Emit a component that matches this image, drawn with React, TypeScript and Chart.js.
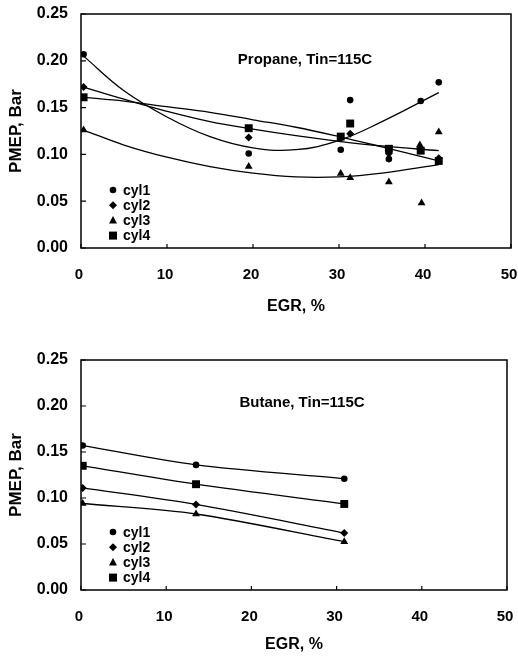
import { useEffect, useRef } from "react";
import { Chart, registerables } from "chart.js";

Chart.register(...registerables);

const FONT = "'Liberation Sans', Arial, Helvetica, sans-serif";

// Axis ticks
const X_TICKS = [0, 10, 20, 30, 40, 50];
const Y_TICKS = [0, 0.05, 0.1, 0.15, 0.2, 0.25];
const SERIES_NAMES = ["cyl1", "cyl2", "cyl3", "cyl4"];

// Propane, Tin=115C — measured PMEP (bar) per cylinder vs EGR (%)
const propaneCyl1X = [0.3, 19.5, 30.2, 31.3, 35.8, 39.5, 41.6];
const propaneCyl1Y = [0.207, 0.101, 0.105, 0.158, 0.095, 0.157, 0.177];
const propaneCyl2X = [0.3, 19.5, 30.2, 31.3, 35.8, 39.5, 41.6];
const propaneCyl2Y = [0.172, 0.118, 0.117, 0.122, 0.101, 0.106, 0.096];
const propaneCyl3X = [0.3, 19.5, 30.2, 31.3, 35.8, 39.4, 39.6, 41.6];
const propaneCyl3Y = [0.126, 0.087, 0.0795, 0.075, 0.0705, 0.11, 0.048, 0.124];
const propaneCyl4X = [0.3, 19.5, 30.2, 31.3, 35.8, 39.5, 41.6];
const propaneCyl4Y = [0.161, 0.128, 0.119, 0.133, 0.106, 0.104, 0.093];

// Propane trend curves, sampled along EGR
const propaneTrendX = [0.3, 5, 10, 15, 20, 25, 30, 35, 41.6];
const propaneTrend1 = [0.205, 0.168, 0.14, 0.119, 0.107, 0.105, 0.115, 0.135, 0.166];
const propaneTrend2 = [0.172, 0.159, 0.146, 0.135, 0.127, 0.12, 0.114, 0.109, 0.104];
const propaneTrend3 = [0.126, 0.11, 0.097, 0.087, 0.08, 0.076, 0.076, 0.08, 0.089];
const propaneTrend4 = [0.161, 0.157, 0.151, 0.145, 0.137, 0.129, 0.119, 0.108, 0.093];

// Butane, Tin=115C
const butaneEgr = [0.2, 13.5, 30.9];
const butaneCyl1 = [0.157, 0.136, 0.121];
const butaneCyl2 = [0.111, 0.093, 0.062];
const butaneCyl3 = [0.094, 0.0826, 0.0525];
const butaneCyl4 = [0.135, 0.115, 0.0935];

const POINT_STYLES = ["circle", "rectRot", "triangle", "rect"];
const POINT_RADII = [3.3, 4, 4.5, 5.6];

function pts(xs: number[], ys: number[]) {
  return xs.map((x, i) => ({ x, y: ys[i] }));
}

function drawMarker(ctx: CanvasRenderingContext2D, style: string, x: number, y: number) {
  ctx.beginPath();
  if (style === "circle") {
    ctx.arc(x, y, 3.3, 0, Math.PI * 2);
  } else if (style === "rectRot") {
    ctx.moveTo(x, y - 4);
    ctx.lineTo(x + 4, y);
    ctx.lineTo(x, y + 4);
    ctx.lineTo(x - 4, y);
    ctx.closePath();
  } else if (style === "triangle") {
    ctx.moveTo(x, y - 4.5);
    ctx.lineTo(x + 4, y + 3);
    ctx.lineTo(x - 4, y + 3);
    ctx.closePath();
  } else {
    ctx.rect(x - 4, y - 4, 8, 8);
  }
  ctx.fill();
}

// Frame around the plot, inward tick marks, inset title and legend
const framePlugin = {
  id: "frame",
  afterDraw(chart: any, _args: any, opts: any) {
    const { ctx, chartArea: a, scales } = chart;
    ctx.save();
    ctx.strokeStyle = "#000";
    ctx.fillStyle = "#000";
    ctx.lineWidth = 1.5;
    ctx.strokeRect(a.left, a.top, a.right - a.left, a.bottom - a.top);
    ctx.lineWidth = 1.2;
    ctx.beginPath();
    for (const v of X_TICKS) {
      const px = scales.x.getPixelForValue(v);
      ctx.moveTo(px, a.bottom);
      ctx.lineTo(px, a.bottom - 4);
    }
    for (const v of Y_TICKS) {
      const py = scales.y.getPixelForValue(v);
      ctx.moveTo(a.left, py);
      ctx.lineTo(a.left + 5, py);
    }
    ctx.stroke();

    ctx.font = `bold 15px ${FONT}`;
    ctx.textAlign = "center";
    ctx.textBaseline = "middle";
    ctx.fillText(opts.title, a.left + opts.titleDx, a.top + opts.titleDy);

    ctx.font = `bold 14px ${FONT}`;
    ctx.textAlign = "left";
    SERIES_NAMES.forEach((name, i) => {
      const y = a.bottom - 58 + i * 15.2;
      drawMarker(ctx, POINT_STYLES[i], a.left + 32, y);
      ctx.fillText(name, a.left + 42, y + 1);
    });
    ctx.restore();
  },
};

function makeConfig(p: {
  pointSets: { x: number; y: number }[][];
  curveSets: { x: number; y: number }[][];
  title: string;
  titleDx: number;
  titleDy: number;
  padTop: number;
  padRight: number;
  xHeight: number;
  xTitlePad: number;
  curveTension: number;
}) {
  const datasets: any[] = [];
  p.pointSets.forEach((data, i) => {
    datasets.push({
      label: SERIES_NAMES[i],
      data,
      showLine: false,
      pointStyle: POINT_STYLES[i],
      pointRadius: POINT_RADII[i],
      pointBackgroundColor: "#000",
      pointBorderColor: "#000",
      pointBorderWidth: 0,
      order: 1,
    });
  });
  p.curveSets.forEach((data, i) => {
    datasets.push({
      label: SERIES_NAMES[i] + " fit",
      data,
      showLine: true,
      pointRadius: 0,
      borderColor: "#000",
      borderWidth: 1.3,
      tension: p.curveTension,
      fill: false,
      order: 2,
    });
  });

  return {
    type: "scatter",
    data: { datasets },
    plugins: [framePlugin],
    options: {
      animation: false,
      responsive: false,
      devicePixelRatio: 1,
      events: [],
      layout: { padding: { left: 0, right: p.padRight, top: p.padTop, bottom: 0 } },
      plugins: {
        legend: { display: false },
        tooltip: { enabled: false },
        frame: { title: p.title, titleDx: p.titleDx, titleDy: p.titleDy },
      },
      scales: {
        x: {
          type: "linear",
          min: 0,
          max: 50,
          grid: { display: false, drawTicks: false },
          border: { display: false },
          ticks: {
            stepSize: 10,
            autoSkip: false,
            maxRotation: 0,
            padding: 18,
            labelOffset: -2,
            color: "#000",
            font: { family: FONT, size: 15, weight: "bold" },
          },
          title: {
            display: true,
            text: "EGR, %",
            color: "#000",
            font: { family: FONT, size: 16, weight: "bold" },
            padding: { top: 0, bottom: p.xTitlePad },
          },
          afterFit(s: any) {
            s.height = p.xHeight;
            s.paddingLeft = 0;
            s.paddingRight = 0;
          },
        },
        y: {
          type: "linear",
          min: 0,
          max: 0.25,
          grid: { display: false, drawTicks: false },
          border: { display: false },
          ticks: {
            stepSize: 0.05,
            autoSkip: false,
            padding: 13,
            color: "#000",
            font: { family: FONT, size: 16, weight: "bold" },
            callback: (v: number) => Number(v).toFixed(2),
          },
          title: {
            display: true,
            text: "PMEP, Bar",
            color: "#000",
            font: { family: FONT, size: 17, weight: "bold" },
            padding: { top: 6, bottom: 0 },
          },
          afterFit(s: any) {
            s.width = 81;
            s.paddingTop = 0;
            s.paddingBottom = 0;
          },
        },
      },
    },
  };
}

export default function App() {
  const topRef = useRef<HTMLCanvasElement>(null);
  const bottomRef = useRef<HTMLCanvasElement>(null);

  useEffect(() => {
    const propane = new Chart(
      topRef.current as HTMLCanvasElement,
      makeConfig({
        pointSets: [
          pts(propaneCyl1X, propaneCyl1Y),
          pts(propaneCyl2X, propaneCyl2Y),
          pts(propaneCyl3X, propaneCyl3Y),
          pts(propaneCyl4X, propaneCyl4Y),
        ],
        curveSets: [
          pts(propaneTrendX, propaneTrend1),
          pts(propaneTrendX, propaneTrend2),
          pts(propaneTrendX, propaneTrend3),
          pts(propaneTrendX, propaneTrend4),
        ],
        title: "Propane, Tin=115C",
        titleDx: 224,
        titleDy: 46,
        padTop: 14,
        padRight: 7,
        xHeight: 82,
        xTitlePad: 14,
        curveTension: 0.4,
      }) as any
    );
    const butane = new Chart(
      bottomRef.current as HTMLCanvasElement,
      makeConfig({
        pointSets: [
          pts(butaneEgr, butaneCyl1),
          pts(butaneEgr, butaneCyl2),
          pts(butaneEgr, butaneCyl3),
          pts(butaneEgr, butaneCyl4),
        ],
        curveSets: [
          pts(butaneEgr, butaneCyl1),
          pts(butaneEgr, butaneCyl2),
          pts(butaneEgr, butaneCyl3),
          pts(butaneEgr, butaneCyl4),
        ],
        title: "Butane, Tin=115C",
        titleDx: 221,
        titleDy: 43,
        padTop: 30,
        padRight: 11,
        xHeight: 70,
        xTitlePad: 6,
        curveTension: 0.3,
      }) as any
    );
    return () => {
      propane.destroy();
      butane.destroy();
    };
  }, []);

  return (
    <div style={{ position: "fixed", left: 0, top: 0, width: 518, height: 660, background: "#fff" }}>
      <canvas
        ref={topRef}
        width={518}
        height={330}
        style={{ position: "absolute", left: 0, top: 0, width: 518, height: 330 }}
      />
      <canvas
        ref={bottomRef}
        width={518}
        height={330}
        style={{ position: "absolute", left: 0, top: 330, width: 518, height: 330 }}
      />
    </div>
  );
}
